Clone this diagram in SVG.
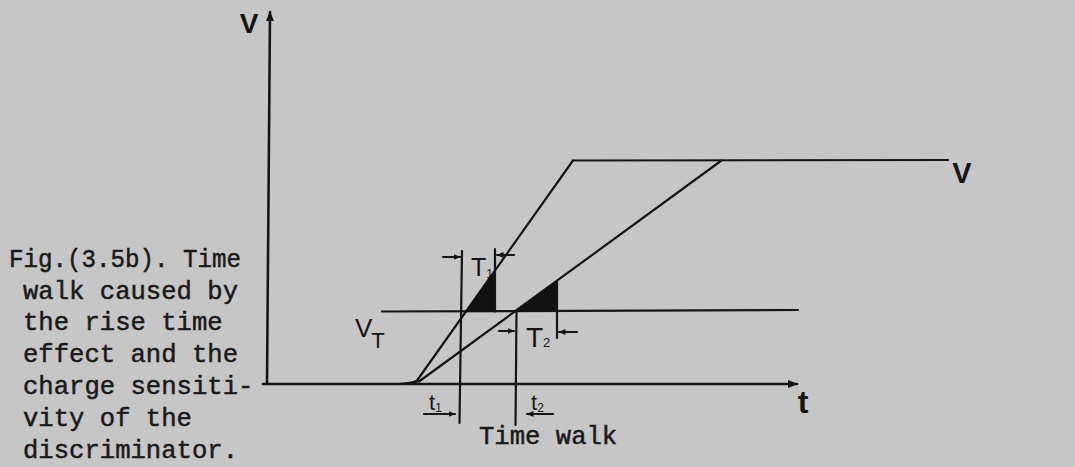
<svg xmlns="http://www.w3.org/2000/svg" width="1075" height="467" viewBox="0 0 1075 467">
  <defs>
    <style>
      .ln { stroke: #151515; stroke-width: 2.2; fill: none; stroke-linecap: round; stroke-linejoin: round; }
      .ax { stroke: #151515; stroke-width: 2.6; fill: none; stroke-linecap: round; }
      .cap { font-family: "Liberation Mono", "DejaVu Sans Mono", monospace; font-size: 25.6px; fill: #1a1a1a; stroke: #1a1a1a; stroke-width: 0.5; }
      .lab { font-family: "Liberation Sans", "DejaVu Sans", sans-serif; fill: #151515; }
      .big { font-weight: bold; }
      .fill { fill: #111; stroke: #111; stroke-width: 1; }
    </style>
    <marker id="ah" markerWidth="10" markerHeight="8" refX="9" refY="4" orient="auto" markerUnits="userSpaceOnUse">
      <path d="M0,0 L10,4 L0,8 Z" fill="#151515"/>
    </marker>
    <marker id="sah" markerWidth="7" markerHeight="6" refX="6.5" refY="3" orient="auto" markerUnits="userSpaceOnUse">
      <path d="M0,0 L7,3 L0,6 Z" fill="#151515"/>
    </marker>
  </defs>
  <rect width="1075" height="467" fill="#c6c6c6"/>

  <g id="connectors">
    <!-- axes -->
    <line id="v-axis" class="ax" x1="267" y1="384" x2="270" y2="12" marker-end="url(#ah)"/>
    <line id="t-axis" class="ax" x1="263" y1="384" x2="797" y2="384" marker-end="url(#ah)"/>
    <!-- threshold line -->
    <line id="vt-line" class="ln" x1="382" y1="311.5" x2="798" y2="310"/>
    <!-- plateau -->
    <line id="plateau" class="ln" x1="573" y1="160.5" x2="948" y2="160"/>
    <!-- signals -->
    <path id="toe" d="M398,384 Q412,383.5 418,380.5" class="ln" stroke-width="3"/>
    <path id="steep" class="ln" d="M416,382 L573,160.5"/>
    <path id="shallow" class="ln" d="M419,381.5 L721.5,160.5"/>
    <!-- shaded triangles -->
    <polygon class="fill" points="466,311.5 495,311.5 495,270.5"/>
    <polygon class="fill" points="515.5,311.5 557,311.5 557,280.5"/>
    <!-- t1 and t2 verticals -->
    <line class="ln" x1="462" y1="251" x2="459.5" y2="423"/>
    <line class="ln" x1="516.5" y1="311.5" x2="515.5" y2="425"/>
    <line class="ln" x1="495" y1="249" x2="495" y2="311.5"/>
    <line class="ln" x1="557" y1="281" x2="557" y2="338"/>
    <!-- measurement arrows -->
    <line class="ln" stroke-width="1.8" x1="443" y1="257" x2="460" y2="257" marker-end="url(#sah)"/>
    <line class="ln" stroke-width="1.8" x1="514" y1="255" x2="497" y2="255" marker-end="url(#sah)"/>
    <line class="ln" stroke-width="1.8" x1="499" y1="331" x2="514" y2="331" marker-end="url(#sah)"/>
    <line class="ln" stroke-width="1.8" x1="577" y1="332" x2="559" y2="332" marker-end="url(#sah)"/>
    <!-- t1/t2 underline arrows -->
    <line class="ln" stroke-width="1.8" x1="424" y1="414" x2="455" y2="414" marker-end="url(#sah)"/>
    <line class="ln" stroke-width="1.8" x1="553" y1="414" x2="527" y2="414" marker-end="url(#sah)"/>
  </g>

  <g id="labels">
    <text class="lab big" x="249" y="33" font-size="28" text-anchor="middle">V</text>
    <text class="lab big" x="962" y="183" font-size="29" text-anchor="middle">V</text>
    <text class="lab big" x="803" y="413" font-size="32" text-anchor="middle">t</text>
    <text class="lab" x="355" y="337" font-size="26">V<tspan font-size="22" dy="11" dx="-1">T</tspan></text>
    <text class="lab" x="471" y="276" font-size="25">T<tspan font-size="12" dy="2">1</tspan></text>
    <text class="lab" x="526" y="347" font-size="28">T<tspan font-size="13" dy="0">2</tspan></text>
    <text class="lab" x="429" y="410" font-size="22">t<tspan font-size="12" dy="2">1</tspan></text>
    <text class="lab" x="531" y="410" font-size="22">t<tspan font-size="12" dy="2">2</tspan></text>
    <text class="cap" x="479" y="444">Time walk</text>
  </g>

  <g id="caption">
    <text class="cap" x="9" y="267" textLength="232" lengthAdjust="spacingAndGlyphs">Fig.(3.5b). Time</text>
    <text class="cap" x="23" y="299">walk caused by</text>
    <text class="cap" x="23" y="330">the rise time</text>
    <text class="cap" x="23" y="362">effect and the</text>
    <text class="cap" x="23" y="394">charge sensiti-</text>
    <text class="cap" x="23" y="426">vity of the</text>
    <text class="cap" x="23" y="458">discriminator.</text>
  </g>
</svg>
